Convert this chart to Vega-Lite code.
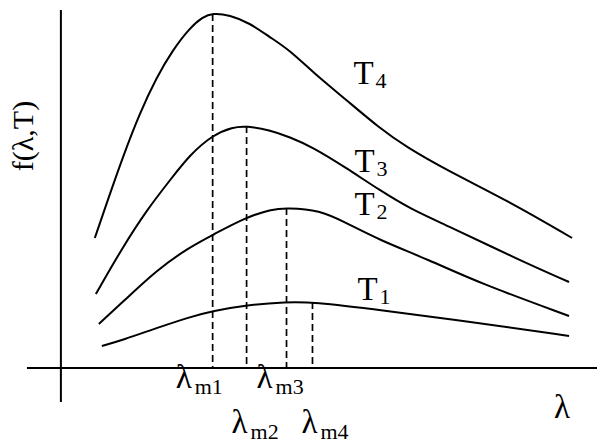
{
  "$schema": "https://vega.github.io/schema/vega-lite/v6.json",
  "autosize": {"type": "fit", "contains": "padding"},
  "width": 598,
  "height": 444,
  "padding": 0,
  "background": "white",
  "config": {"view": {"stroke": null}},
  "datasets": {
    "curves": [
      {"series": "T4", "x": 3.4, "y": 13.0}, {"series": "T4", "x": 4.7, "y": 16.8}, {"series": "T4", "x": 6.2, "y": 21.1},
      {"series": "T4", "x": 7.9, "y": 25.5}, {"series": "T4", "x": 9.6, "y": 29.1}, {"series": "T4", "x": 11.2, "y": 31.8},
      {"series": "T4", "x": 12.9, "y": 34.0}, {"series": "T4", "x": 14.2, "y": 35.1}, {"series": "T4", "x": 15.2, "y": 35.5},
      {"series": "T4", "x": 16.9, "y": 35.3}, {"series": "T4", "x": 18.9, "y": 34.5}, {"series": "T4", "x": 20.9, "y": 33.1},
      {"series": "T4", "x": 22.9, "y": 31.8}, {"series": "T4", "x": 25.2, "y": 29.6}, {"series": "T4", "x": 28.6, "y": 26.8},
      {"series": "T4", "x": 31.9, "y": 24.0}, {"series": "T4", "x": 34.6, "y": 22.1}, {"series": "T4", "x": 38.6, "y": 19.8},
      {"series": "T4", "x": 45.2, "y": 16.5}, {"series": "T4", "x": 51.2, "y": 13.0},
      {"series": "T3", "x": 3.5, "y": 7.4}, {"series": "T3", "x": 6.2, "y": 12.1}, {"series": "T3", "x": 8.6, "y": 15.8},
      {"series": "T3", "x": 11.1, "y": 19.0}, {"series": "T3", "x": 12.9, "y": 21.3}, {"series": "T3", "x": 15.2, "y": 23.3},
      {"series": "T3", "x": 17.2, "y": 24.1}, {"series": "T3", "x": 18.6, "y": 24.2}, {"series": "T3", "x": 20.9, "y": 23.8},
      {"series": "T3", "x": 22.9, "y": 23.1}, {"series": "T3", "x": 25.2, "y": 22.1}, {"series": "T3", "x": 28.6, "y": 20.0},
      {"series": "T3", "x": 31.9, "y": 17.8}, {"series": "T3", "x": 35.2, "y": 15.8}, {"series": "T3", "x": 38.6, "y": 14.3},
      {"series": "T3", "x": 45.9, "y": 10.8}, {"series": "T3", "x": 50.9, "y": 8.6},
      {"series": "T2", "x": 3.8, "y": 4.4}, {"series": "T2", "x": 6.2, "y": 6.6}, {"series": "T2", "x": 9.6, "y": 9.8},
      {"series": "T2", "x": 12.9, "y": 12.1}, {"series": "T2", "x": 15.2, "y": 13.3}, {"series": "T2", "x": 18.6, "y": 15.1},
      {"series": "T2", "x": 21.2, "y": 15.9}, {"series": "T2", "x": 22.6, "y": 16.0}, {"series": "T2", "x": 25.9, "y": 15.8},
      {"series": "T2", "x": 28.6, "y": 14.5}, {"series": "T2", "x": 31.9, "y": 12.8}, {"series": "T2", "x": 36.9, "y": 10.8},
      {"series": "T2", "x": 41.9, "y": 8.5}, {"series": "T2", "x": 50.9, "y": 5.2},
      {"series": "T1", "x": 4.1, "y": 2.2}, {"series": "T1", "x": 6.2, "y": 2.8}, {"series": "T1", "x": 9.6, "y": 4.0},
      {"series": "T1", "x": 12.9, "y": 5.1}, {"series": "T1", "x": 15.2, "y": 5.7}, {"series": "T1", "x": 18.6, "y": 6.3},
      {"series": "T1", "x": 22.6, "y": 6.6}, {"series": "T1", "x": 25.2, "y": 6.6}, {"series": "T1", "x": 31.9, "y": 5.8},
      {"series": "T1", "x": 41.9, "y": 4.5}, {"series": "T1", "x": 50.9, "y": 3.2}
    ],
    "peaks": [
      {"x": 15.2, "y": 35.4}, {"x": 18.6, "y": 24.2}, {"x": 22.6, "y": 16.0}, {"x": 25.2, "y": 6.6}
    ],
    "axes": [
      {"x": 0, "y": 35.8, "x2": 0, "y2": -3.4},
      {"x": -3.4, "y": 0, "x2": 53.7, "y2": 0}
    ],
    "labels": [
      {"kind": "T", "text": "T", "sub": "4", "x": 29.3, "y": 28.4},
      {"kind": "T", "text": "T", "sub": "3", "x": 29.4, "y": 19.6},
      {"kind": "T", "text": "T", "sub": "2", "x": 29.4, "y": 15.3},
      {"kind": "T", "text": "T", "sub": "1", "x": 29.7, "y": 6.8},
      {"kind": "lambda", "text": "λ", "sub": "m1", "x": 11.5, "y": -2.0},
      {"kind": "lambda", "text": "λ", "sub": "m3", "x": 19.6, "y": -2.0},
      {"kind": "lambda", "text": "λ", "sub": "m2", "x": 17.1, "y": -6.5},
      {"kind": "lambda", "text": "λ", "sub": "m4", "x": 24.1, "y": -6.5},
      {"kind": "axis", "text": "λ", "sub": "", "x": 49.4, "y": -5.0}
    ],
    "ylabel": [
      {"text": "f(λ,T)", "x": -3.7, "y": 23.2}
    ]
  },
  "encoding": {
    "x": {"field": "x", "type": "quantitative", "scale": {"domain": [-6.1, 53.7], "nice": false, "zero": false}, "axis": null},
    "y": {"field": "y", "type": "quantitative", "scale": {"domain": [-7.6, 36.8], "nice": false, "zero": false}, "axis": null}
  },
  "layer": [
    {
      "data": {"name": "axes"},
      "mark": {"type": "rule", "color": "black", "strokeWidth": 2},
      "encoding": {"x2": {"field": "x2"}, "y2": {"field": "y2"}}
    },
    {
      "data": {"name": "peaks"},
      "mark": {"type": "rule", "color": "black", "strokeWidth": 1.7, "strokeDash": [7, 4]},
      "encoding": {"y2": {"datum": 0}}
    },
    {
      "data": {"name": "curves"},
      "mark": {"type": "line", "color": "black", "strokeWidth": 2, "interpolate": "basis"},
      "encoding": {"detail": {"field": "series"}}
    },
    {
      "data": {"name": "labels"},
      "mark": {"type": "text", "font": "Liberation Serif", "fontSize": 33, "align": "left", "baseline": "alphabetic", "color": "black"},
      "encoding": {"text": {"field": "text"}}
    },
    {
      "data": {"name": "labels"},
      "transform": [{"filter": "datum.kind === 'T'"}],
      "mark": {"type": "text", "font": "Liberation Serif", "fontSize": 22, "align": "left", "baseline": "alphabetic", "color": "black", "dx": 22, "dy": 4},
      "encoding": {"text": {"field": "sub"}}
    },
    {
      "data": {"name": "labels"},
      "transform": [{"filter": "datum.kind === 'lambda'"}],
      "mark": {"type": "text", "font": "Liberation Serif", "fontSize": 22, "align": "left", "baseline": "alphabetic", "color": "black", "dx": 19, "dy": 6},
      "encoding": {"text": {"field": "sub"}}
    },
    {
      "data": {"name": "ylabel"},
      "mark": {"type": "text", "font": "Liberation Serif", "fontSize": 30, "angle": 270, "align": "center", "baseline": "middle", "color": "black"},
      "encoding": {"text": {"field": "text"}}
    }
  ]
}
